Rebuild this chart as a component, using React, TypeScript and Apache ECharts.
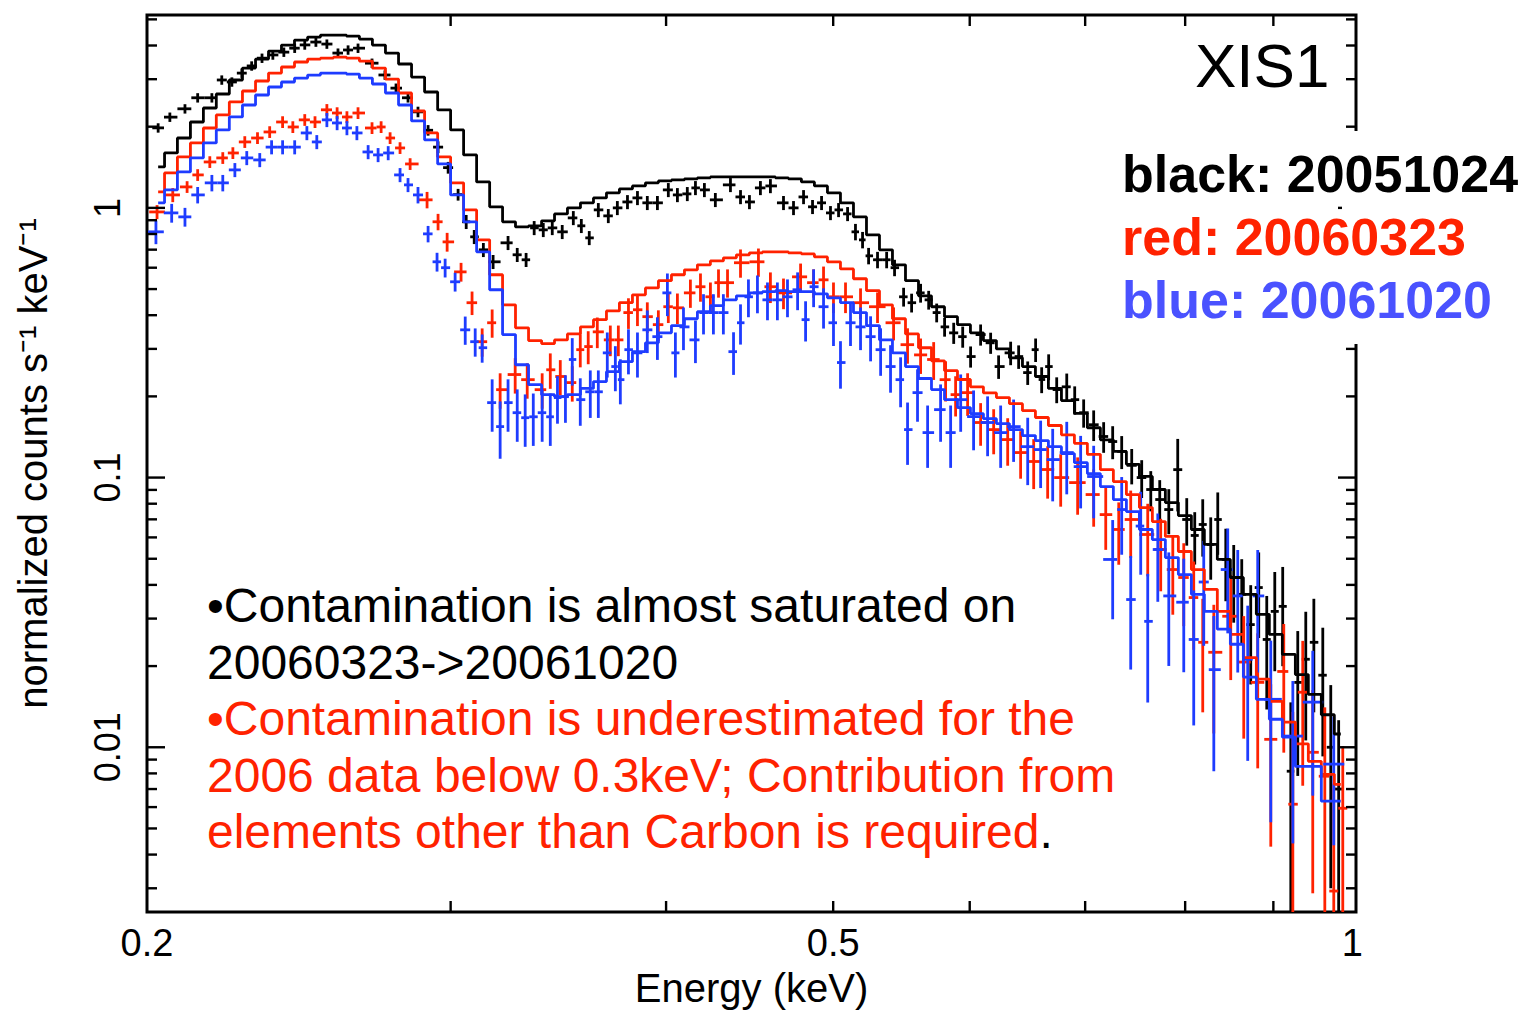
import React, { useEffect, useRef } from "react";
import * as echarts from "echarts";

// ---------------- axis ranges & ticks ----------------
const X_MIN = 0.2;
const X_MAX = 1.005;
const Y_MIN = 0.00245;
const Y_MAX = 5.19;

const xTickValues = [0.3, 0.4, 0.5, 0.6, 0.7, 0.8, 0.9];
const xLabelValues = [0.2, 0.5, 1];
const yMajorTicks = [0.01, 0.1, 1];
const yMinorTicks = [0.003, 0.004, 0.005, 0.006, 0.007, 0.008, 0.009, 0.02, 0.03, 0.04, 0.05, 0.06, 0.07, 0.08, 0.09, 0.2, 0.3, 0.4, 0.5, 0.6, 0.7, 0.8, 0.9, 2, 3, 4, 5];
const yLabelValues = [0.01, 0.1, 1];

// ---------------- model (step) curves ----------------
const modelEnergy = [0.2030, 0.2065, 0.2101, 0.2138, 0.2175, 0.2213, 0.2252, 0.2292, 0.2332, 0.2373,
  0.2414, 0.2457, 0.2500, 0.2543, 0.2588, 0.2633, 0.2679, 0.2726, 0.2774, 0.2823,
  0.2872, 0.2923, 0.2974, 0.3026, 0.3079, 0.3133, 0.3188, 0.3243, 0.3300, 0.3358,
  0.3417, 0.3476, 0.3537, 0.3599, 0.3662, 0.3726, 0.3791, 0.3858, 0.3925, 0.3994,
  0.4064, 0.4135, 0.4207, 0.4281, 0.4356, 0.4432, 0.4510, 0.4589, 0.4669, 0.4751,
  0.4834, 0.4919, 0.5005, 0.5093, 0.5182, 0.5273, 0.5365, 0.5459, 0.5555, 0.5652,
  0.5751, 0.5852, 0.5954, 0.6058, 0.6164, 0.6272, 0.6382, 0.6494, 0.6607, 0.6723,
  0.6841, 0.6960, 0.7082, 0.7206, 0.7332, 0.7461, 0.7591, 0.7724, 0.7859, 0.7997,
  0.8137, 0.8279, 0.8424, 0.8572, 0.8722, 0.8874, 0.9030, 0.9188, 0.9349, 0.9512,
  0.9679, 0.9848];

const blackModel = [1.419, 1.598, 1.816, 2.082, 2.346, 2.644, 2.979, 3.300, 3.563, 3.815,
  4.015, 4.190, 4.299, 4.373, 4.373, 4.335, 4.226, 4.015, 3.751, 3.415,
  3.056, 2.689, 2.307, 1.945, 1.572, 1.248, 1.009, 0.888, 0.850, 0.858,
  0.895, 0.950, 1.000, 1.044, 1.089, 1.137, 1.176, 1.206, 1.238, 1.259,
  1.270, 1.281, 1.292, 1.303, 1.303, 1.303, 1.303, 1.303, 1.292, 1.281,
  1.248, 1.206, 1.137, 1.044, 0.926, 0.794, 0.699, 0.615, 0.537, 0.472,
  0.430, 0.395, 0.369, 0.344, 0.322, 0.300, 0.278, 0.258, 0.237, 0.214,
  0.193, 0.173, 0.153, 0.138, 0.125, 0.112, 0.101, 0.0903, 0.0808, 0.0723,
  0.0642, 0.0565, 0.0497, 0.0426, 0.0369, 0.0311, 0.0262, 0.0221, 0.0186, 0.0157,
  0.0132, 0.0112];

const redModel = [1.146, 1.348, 1.545, 1.741, 1.978, 2.211, 2.470, 2.713, 2.954, 3.162,
  3.329, 3.474, 3.563, 3.594, 3.625, 3.594, 3.503, 3.300, 3.004, 2.667,
  2.287, 1.896, 1.545, 1.238, 0.983, 0.761, 0.565, 0.437, 0.359, 0.322,
  0.314, 0.324, 0.341, 0.362, 0.385, 0.415, 0.445, 0.476, 0.505, 0.537,
  0.565, 0.589, 0.615, 0.636, 0.653, 0.670, 0.681, 0.687, 0.687, 0.681,
  0.675, 0.658, 0.631, 0.594, 0.546, 0.493, 0.437, 0.388, 0.341, 0.303,
  0.271, 0.249, 0.231, 0.217, 0.206, 0.198, 0.188, 0.177, 0.167, 0.156,
  0.144, 0.134, 0.122, 0.107, 0.0966, 0.0865, 0.0774, 0.0687, 0.0605, 0.0532,
  0.0456, 0.0385, 0.0319, 0.0262, 0.0215, 0.0179, 0.0148, 0.0124, 0.0103, 0.00887,
  0.00794, 0.00729];

const blueModel = [1.044, 1.166, 1.359, 1.532, 1.741, 1.945, 2.173, 2.407, 2.621, 2.807,
  2.929, 3.030, 3.108, 3.162, 3.162, 3.135, 3.030, 2.879, 2.667, 2.407,
  2.101, 1.786, 1.455, 1.117, 0.888, 0.687, 0.497, 0.339, 0.262, 0.221,
  0.203, 0.1995, 0.203, 0.214, 0.227, 0.247, 0.269, 0.293, 0.316, 0.344,
  0.366, 0.388, 0.412, 0.434, 0.456, 0.472, 0.484, 0.489, 0.493, 0.489,
  0.489, 0.480, 0.464, 0.445, 0.409, 0.366, 0.324, 0.290, 0.258, 0.233,
  0.212, 0.1945, 0.1817, 0.1726, 0.1654, 0.1585, 0.1506, 0.1431, 0.1371, 0.1302,
  0.1227, 0.1136, 0.1035, 0.0926, 0.0829, 0.0748, 0.0642, 0.0589, 0.0505, 0.0437,
  0.0369, 0.0319, 0.0274, 0.0241, 0.0182, 0.01506, 0.0127, 0.0109, 0.0085, 0.0085,
  0.00631, 0.00631];

// ---------------- data points (energy, counts, relative error) ----------------
const blackE = [0.2030, 0.2062, 0.2104, 0.2140, 0.2181, 0.2210, 0.2240, 0.2270, 0.2300, 0.2332,
  0.2366, 0.2401, 0.2436, 0.2469, 0.2506, 0.2543, 0.2581, 0.2616, 0.2651, 0.2701,
  0.2748, 0.2789, 0.2834, 0.2872, 0.2911, 0.2950, 0.2990, 0.3030, 0.3063, 0.3096,
  0.3134, 0.3175, 0.3239, 0.3279, 0.3318, 0.3354, 0.3395, 0.3436, 0.3482, 0.3534,
  0.3572, 0.3610, 0.3654, 0.3703, 0.3748, 0.3799, 0.3850, 0.3901, 0.3954, 0.4012,
  0.4061, 0.4115, 0.4160, 0.4210, 0.4272, 0.4359, 0.4418, 0.4471, 0.4537, 0.4598,
  0.4679, 0.4742, 0.4806, 0.4864, 0.4923, 0.4982, 0.5036, 0.5097, 0.5151, 0.5200,
  0.5242, 0.5305, 0.5370, 0.5427, 0.5493, 0.5552, 0.5619, 0.5680, 0.5741, 0.5802,
  0.5873, 0.5944, 0.6007, 0.6088, 0.6170, 0.6236, 0.6337, 0.6405, 0.6483, 0.6552,
  0.6605, 0.6667, 0.6739, 0.6830, 0.6903, 0.6986, 0.7080, 0.7175, 0.7262, 0.7350,
  0.7449, 0.7549, 0.7641, 0.7733, 0.7827, 0.7921, 0.8017, 0.8103, 0.8190, 0.8278,
  0.8356, 0.8446, 0.8536, 0.8628, 0.8732, 0.8826, 0.8921, 0.9017, 0.9113, 0.9212,
  0.9298, 0.9398, 0.9500, 0.9614, 0.9717, 0.9820];
const blackV = [1.98, 2.17, 2.33, 2.56, 2.56, 2.98, 2.93, 3.16, 3.36, 3.59,
  3.69, 3.78, 3.91, 4.02, 4.12, 4.05, 3.75, 3.85, 3.91, 3.44,
  3.11, 2.78, 2.56, 2.27, 1.94, 1.68, 1.41, 1.12, 0.888, 0.781,
  0.699, 0.631, 0.742, 0.670, 0.642, 0.843, 0.829, 0.843, 0.815, 0.918,
  0.858, 0.774, 0.983, 0.934, 1.0, 1.052, 1.089, 1.044, 1.044, 1.166,
  1.117, 1.127, 1.186, 1.166, 1.071, 1.217, 1.098, 1.052, 1.186, 1.206,
  1.044, 1.0, 1.098, 1.009, 1.044, 0.958, 0.983, 0.950, 0.815, 0.761,
  0.664, 0.642, 0.642, 0.600, 0.468, 0.445, 0.484, 0.456, 0.409, 0.362,
  0.344, 0.333, 0.281, 0.339, 0.316, 0.258, 0.290, 0.281, 0.245, 0.298,
  0.231, 0.258, 0.212, 0.217, 0.1945, 0.174, 0.157, 0.142, 0.136, 0.125,
  0.111, 0.100, 0.0903, 0.0829, 0.0761, 0.107, 0.0699, 0.0610, 0.0670, 0.0565,
  0.0699, 0.0497, 0.0426, 0.0369, 0.0285, 0.0391, 0.0251, 0.0319, 0.0333, 0.00815,
  0.0174, 0.0212, 0.0245, 0.0185, 0.0100, 0.0070];
const blackErr = [0.04, 0.04, 0.04, 0.04, 0.04, 0.04, 0.04, 0.04, 0.04, 0.04,
  0.04, 0.04, 0.04, 0.04, 0.04, 0.04, 0.04, 0.04, 0.04, 0.04,
  0.04, 0.04, 0.04, 0.045, 0.045, 0.05, 0.05, 0.05, 0.06, 0.06,
  0.06, 0.06, 0.06, 0.06, 0.06, 0.06, 0.06, 0.06, 0.06, 0.06,
  0.06, 0.06, 0.06, 0.06, 0.06, 0.06, 0.06, 0.06, 0.06, 0.06,
  0.06, 0.06, 0.06, 0.06, 0.06, 0.06, 0.06, 0.06, 0.06, 0.06,
  0.06, 0.06, 0.06, 0.06, 0.06, 0.06, 0.06, 0.06, 0.07, 0.07,
  0.07, 0.07, 0.07, 0.07, 0.08, 0.08, 0.08, 0.08, 0.08, 0.08,
  0.09, 0.09, 0.09, 0.09, 0.09, 0.1, 0.1, 0.1, 0.1, 0.1,
  0.11, 0.11, 0.11, 0.12, 0.12, 0.12, 0.13, 0.13, 0.14, 0.14,
  0.15, 0.16, 0.17, 0.18, 0.19, 0.3, 0.2, 0.22, 0.24, 0.26,
  0.26, 0.3, 0.32, 0.35, 0.4, 0.35, 0.45, 0.4, 0.4, 0.8,
  0.55, 0.5, 0.45, 0.5, 0.7, 0.8];

const redE = [0.2027, 0.2070, 0.2110, 0.2140, 0.2175, 0.2213, 0.2243, 0.2279, 0.2318, 0.2356,
  0.2397, 0.2430, 0.2469, 0.2503, 0.2543, 0.2578, 0.2612, 0.2651, 0.2701, 0.2734,
  0.2767, 0.2804, 0.2842, 0.2907, 0.2950, 0.2986, 0.3042, 0.3087, 0.3129, 0.3171,
  0.3205, 0.3270, 0.3323, 0.3390, 0.3427, 0.3473, 0.3529, 0.3567, 0.3605, 0.3649,
  0.3713, 0.3753, 0.3804, 0.3850, 0.3901, 0.3959, 0.4012, 0.4061, 0.4132, 0.4188,
  0.4244, 0.4290, 0.4342, 0.4418, 0.4525, 0.4598, 0.4679, 0.4787, 0.4871, 0.4936,
  0.5002, 0.5083, 0.5186, 0.5305, 0.5420, 0.5522, 0.5619, 0.5718, 0.5810, 0.5888,
  0.5983, 0.6088, 0.6195, 0.6312, 0.6422, 0.6535, 0.6658, 0.6775, 0.6930, 0.7080,
  0.7195, 0.7321, 0.7439, 0.7610, 0.7743, 0.7869, 0.7985, 0.8092, 0.8190, 0.8312,
  0.8502, 0.8651, 0.8814, 0.8969, 0.9126, 0.9237, 0.9360, 0.9486, 0.9640, 0.9756,
  0.9874];
const redV = [0.966, 1.117, 1.196, 1.325, 1.480, 1.532, 1.598, 1.756, 1.816, 1.912,
  2.082, 1.995, 2.12, 2.082, 2.31, 2.248, 2.173, 2.248, 1.978, 1.995,
  1.816, 1.668, 1.455, 1.071, 0.888, 0.748, 0.579, 0.445, 0.319, 0.375,
  0.2118, 0.241, 0.2307, 0.2118, 0.251, 0.237, 0.225, 0.298, 0.306, 0.347,
  0.324, 0.324, 0.409, 0.419, 0.395, 0.369, 0.430, 0.426, 0.484, 0.510,
  0.468, 0.528, 0.528, 0.626, 0.631, 0.510, 0.484, 0.555, 0.528, 0.541,
  0.468, 0.468, 0.445, 0.430, 0.375, 0.311, 0.285, 0.274, 0.2307, 0.203,
  0.2065, 0.160, 0.1506, 0.1383, 0.1238, 0.1147, 0.1071, 0.100, 0.0958, 0.0865,
  0.0729, 0.0642, 0.0699, 0.0615, 0.0541, 0.0456, 0.0426, 0.0359, 0.0245, 0.0225,
  0.0306, 0.0207, 0.0174, 0.0107, 0.0191, 0.00615, 0.0160, 0.00958, 0.00781, 0.00293,
  0.00594];
const redErr = [0.06, 0.06, 0.05, 0.05, 0.05, 0.05, 0.05, 0.05, 0.05, 0.05,
  0.05, 0.05, 0.05, 0.05, 0.05, 0.05, 0.05, 0.05, 0.05, 0.05,
  0.05, 0.05, 0.05, 0.07, 0.07, 0.08, 0.08, 0.1, 0.12, 0.12,
  0.15, 0.15, 0.15, 0.15, 0.15, 0.15, 0.15, 0.14, 0.14, 0.13,
  0.13, 0.13, 0.13, 0.13, 0.13, 0.13, 0.13, 0.13, 0.12, 0.12,
  0.13, 0.12, 0.12, 0.12, 0.12, 0.13, 0.13, 0.12, 0.12, 0.12,
  0.13, 0.13, 0.13, 0.13, 0.14, 0.15, 0.15, 0.16, 0.17, 0.17,
  0.18, 0.18, 0.19, 0.2, 0.2, 0.21, 0.22, 0.22, 0.24, 0.24,
  0.26, 0.26, 0.28, 0.3, 0.3, 0.32, 0.34, 0.36, 0.45, 0.5,
  0.42, 0.48, 0.52, 0.6, 0.5, 1.2, 0.55, 0.7, 0.8, 1.5,
  0.7];

const blueE = [0.2024, 0.2067, 0.2104, 0.2140, 0.2181, 0.2213, 0.2249, 0.2285, 0.2325, 0.2362,
  0.2397, 0.2436, 0.2476, 0.2509, 0.2543, 0.2578, 0.2612, 0.2647, 0.2687, 0.2723,
  0.2760, 0.2804, 0.2834, 0.2872, 0.2911, 0.2946, 0.2978, 0.3018, 0.3059, 0.3100,
  0.3129, 0.3171, 0.3205, 0.3239, 0.3279, 0.3314, 0.3350, 0.3390, 0.3427, 0.3460,
  0.3497, 0.3529, 0.3567, 0.3615, 0.3654, 0.3698, 0.3738, 0.3763, 0.3804, 0.3850,
  0.3901, 0.3954, 0.4007, 0.4050, 0.4094, 0.4160, 0.4205, 0.4261, 0.4318, 0.4377,
  0.4418, 0.4465, 0.4519, 0.4580, 0.4641, 0.4704, 0.4768, 0.4819, 0.4871, 0.4936,
  0.5002, 0.5049, 0.5117, 0.5186, 0.5256, 0.5327, 0.5398, 0.5471, 0.5522, 0.5596,
  0.5672, 0.5771, 0.5849, 0.5928, 0.6031, 0.6145, 0.6253, 0.6362, 0.6483, 0.6596,
  0.6703, 0.6830, 0.6958, 0.7080, 0.7262, 0.7350, 0.7439, 0.7539, 0.7610, 0.7713,
  0.7827, 0.7985, 0.8092, 0.8201, 0.8312, 0.8468, 0.8582, 0.8697, 0.8814, 0.8969,
  0.9237, 0.9486, 0.9756];
const blueV = [0.815, 0.958, 0.926, 1.117, 1.238, 1.238, 1.383, 1.532, 1.506, 1.68,
  1.68, 1.68, 1.896, 1.756, 2.12, 2.065, 1.978, 1.896, 1.612, 1.572,
  1.598, 1.325, 1.217, 1.117, 0.801, 0.631, 0.600, 0.532, 0.353, 0.319,
  0.303, 0.1896, 0.1545, 0.1896, 0.174, 0.1667, 0.168, 0.174, 0.168, 0.198,
  0.1995, 0.274, 0.1945, 0.208, 0.208, 0.290, 0.258, 0.2307, 0.298, 0.290,
  0.353, 0.333, 0.484, 0.290, 0.362, 0.324, 0.409, 0.409, 0.409, 0.293,
  0.375, 0.468, 0.484, 0.456, 0.456, 0.468, 0.497, 0.385, 0.510, 0.430,
  0.375, 0.267, 0.375, 0.362, 0.333, 0.298, 0.258, 0.2307, 0.1506, 0.2065,
  0.1468, 0.1786, 0.1468, 0.1945, 0.1683, 0.160, 0.1468, 0.1545, 0.1302, 0.127,
  0.1166, 0.1238, 0.1098, 0.1009, 0.0497, 0.0761, 0.0353, 0.0661, 0.0293, 0.0541,
  0.0364, 0.0345, 0.0251, 0.0410, 0.0194, 0.0456, 0.0364, 0.0212, 0.0364, 0.01506,
  0.0110, 0.0147, 0.00866];
const blueErr = [0.1, 0.08, 0.08, 0.07, 0.07, 0.07, 0.06, 0.06, 0.06, 0.06,
  0.06, 0.06, 0.06, 0.06, 0.06, 0.06, 0.06, 0.06, 0.06, 0.06,
  0.06, 0.06, 0.06, 0.07, 0.07, 0.08, 0.08, 0.08, 0.12, 0.12,
  0.12, 0.22, 0.24, 0.22, 0.22, 0.22, 0.22, 0.22, 0.22, 0.2,
  0.2, 0.2, 0.2, 0.2, 0.2, 0.19, 0.19, 0.19, 0.19, 0.19,
  0.18, 0.18, 0.18, 0.19, 0.18, 0.18, 0.17, 0.17, 0.17, 0.18,
  0.17, 0.16, 0.16, 0.16, 0.16, 0.16, 0.16, 0.17, 0.16, 0.17,
  0.18, 0.2, 0.18, 0.18, 0.19, 0.2, 0.2, 0.21, 0.26, 0.22,
  0.26, 0.24, 0.26, 0.24, 0.25, 0.25, 0.26, 0.26, 0.28, 0.28,
  0.3, 0.3, 0.3, 0.3, 0.4, 0.32, 0.45, 0.34, 0.5, 0.36,
  0.45, 0.45, 0.52, 0.42, 0.58, 0.42, 0.48, 0.58, 0.48, 0.65,
  0.6, 0.55, 0.5];

// ---------------- styling ----------------
const FONT = '"Liberation Sans", Arial, Helvetica, sans-serif';
const BLACK = "#000000";
const RED = "#ff2200";
const BLUE = "#1e3cff";
const LEGEND_BLUE = "#4a52ff";

function buildBars(E: number[], V: number[], R: number[]) {
  return E.map((e, i) => {
    const prev = i > 0 ? E[i - 1] : (e * e) / E[i + 1];
    const next = i < E.length - 1 ? E[i + 1] : (e * e) / E[i - 1];
    const lo = Math.sqrt(prev * e);
    const hi = Math.sqrt(e * next);
    const v = V[i];
    const dv = v * R[i];
    return [e, v, lo, hi, Math.max(v - dv, Y_MIN), Math.min(v + dv, Y_MAX)];
  });
}

function errorSeries(name: string, E: number[], V: number[], R: number[], color: string) {
  return {
    type: "custom",
    name,
    silent: true,
    z: 3,
    encode: { x: 0, y: 1 },
    data: buildBars(E, V, R),
    renderItem: (params: any, api: any) => {
      const p = api.coord([api.value(0), api.value(1)]);
      const l = api.coord([api.value(2), api.value(1)]);
      const r = api.coord([api.value(3), api.value(1)]);
      const b = api.coord([api.value(0), api.value(4)]);
      const t = api.coord([api.value(0), api.value(5)]);
      const style = { stroke: color, lineWidth: 2.8 };
      return {
        type: "group",
        children: [
          { type: "line", shape: { x1: l[0], y1: p[1], x2: r[0], y2: p[1] }, style },
          { type: "line", shape: { x1: p[0], y1: t[1], x2: p[0], y2: b[1] }, style },
        ],
      };
    },
  };
}

function modelSeries(name: string, M: number[], color: string) {
  return {
    type: "line",
    name,
    step: "middle",
    symbol: "none",
    silent: true,
    z: 4,
    clip: true,
    lineStyle: { color, width: 2.8 },
    data: modelEnergy.map((e, i) => [e, M[i]]),
  };
}

const tickStyle = { stroke: "#000", lineWidth: 2.4 };

const option: any = {
  animation: false,
  backgroundColor: "#ffffff",
  textStyle: { fontFamily: FONT },
  grid: {
    left: 147,
    right: 173,
    top: 15,
    bottom: 100,
    show: true,
    borderColor: "#000",
    borderWidth: 3,
    backgroundColor: "transparent",
  },
  xAxis: {
    type: "log",
    logBase: 10,
    min: X_MIN,
    max: X_MAX,
    name: "Energy (keV)",
    nameLocation: "middle",
    nameGap: 56,
    nameTextStyle: { fontFamily: FONT, fontSize: 40, color: "#000" },
    axisLine: { show: false },
    axisTick: { show: false },
    axisLabel: { show: false },
    splitLine: { show: false },
  },
  yAxis: {
    type: "log",
    logBase: 10,
    min: Y_MIN,
    max: Y_MAX,
    name: "normalized counts s⁻¹ keV⁻¹",
    nameLocation: "middle",
    nameGap: 94,
    nameTextStyle: { fontFamily: FONT, fontSize: 40, color: "#000" },
    axisLine: { show: false },
    axisTick: { show: false },
    axisLabel: { show: false },
    splitLine: { show: false },
  },
  series: [
    errorSeries("black data", blackE, blackV, blackErr, BLACK),
    modelSeries("black model", blackModel, BLACK),
    errorSeries("red data", redE, redV, redErr, RED),
    modelSeries("red model", redModel, RED),
    errorSeries("blue data", blueE, blueV, blueErr, BLUE),
    modelSeries("blue model", blueModel, BLUE),
    {
      type: "custom",
      name: "x ticks",
      silent: true,
      z: 6,
      encode: { x: 0, y: 1 },
      data: xTickValues.map((v) => [v, 1]),
      renderItem: (params: any, api: any) => {
        const cs = params.coordSys;
        const x = api.coord([api.value(0), 1])[0];
        return {
          type: "group",
          children: [
            { type: "line", shape: { x1: x, y1: cs.y + cs.height, x2: x, y2: cs.y + cs.height - 11 }, style: tickStyle },
            { type: "line", shape: { x1: x, y1: cs.y, x2: x, y2: cs.y + 11 }, style: tickStyle },
          ],
        };
      },
    },
    {
      type: "custom",
      name: "y ticks",
      silent: true,
      z: 6,
      encode: { x: 0, y: 1 },
      data: [...yMajorTicks.map((v) => [0.5, v, 1]), ...yMinorTicks.map((v) => [0.5, v, 0])],
      renderItem: (params: any, api: any) => {
        const cs = params.coordSys;
        const y = api.coord([0.5, api.value(1)])[1];
        const len = api.value(2) ? 18 : 10;
        return {
          type: "group",
          children: [
            { type: "line", shape: { x1: cs.x, y1: y, x2: cs.x + len, y2: y }, style: tickStyle },
            { type: "line", shape: { x1: cs.x + cs.width, y1: y, x2: cs.x + cs.width - len, y2: y }, style: tickStyle },
          ],
        };
      },
    },
    {
      type: "custom",
      name: "x labels",
      silent: true,
      z: 6,
      encode: { x: 0, y: 1 },
      data: xLabelValues.map((v) => [v, 1]),
      renderItem: (params: any, api: any) => {
        const cs = params.coordSys;
        const x = api.coord([api.value(0), 1])[0];
        return {
          type: "text",
          x,
          y: cs.y + cs.height + 31,
          style: {
            text: String(api.value(0)),
            fill: "#000",
            font: `38px ${FONT}`,
            align: "center",
            verticalAlign: "middle",
          },
        };
      },
    },
    {
      type: "custom",
      name: "y labels",
      silent: true,
      z: 6,
      encode: { x: 0, y: 1 },
      data: yLabelValues.map((v) => [0.5, v]),
      renderItem: (params: any, api: any) => {
        const cs = params.coordSys;
        const y = api.coord([0.5, api.value(1)])[1];
        return {
          type: "text",
          x: cs.x - 40,
          y,
          rotation: Math.PI / 2,
          style: {
            text: String(api.value(1)),
            fill: "#000",
            font: `36px ${FONT}`,
            align: "center",
            verticalAlign: "middle",
          },
        };
      },
    },
  ],
  graphic: [
    { type: "rect", z: 50, shape: { x: 1342, y: 131, width: 30, height: 213 }, style: { fill: "#ffffff" } },
    { type: "text", z: 60, x: 1195, y: 65, style: { text: "XIS1", fill: "#000", font: `62px ${FONT}`, align: "left", verticalAlign: "middle" } },
    { type: "text", z: 60, x: 1122, y: 174, style: { text: "black: 20051024", fill: "#000", font: `bold 52px ${FONT}`, align: "left", verticalAlign: "middle" } },
    { type: "text", z: 60, x: 1122, y: 237, style: { text: "red: 20060323", fill: RED, font: `bold 52px ${FONT}`, align: "left", verticalAlign: "middle" } },
    { type: "text", z: 60, x: 1122, y: 300, style: { text: "blue: 20061020", fill: LEGEND_BLUE, font: `bold 52px ${FONT}`, align: "left", verticalAlign: "middle" } },
    { type: "text", z: 60, x: 207, y: 605, style: { text: "•Contamination is almost saturated on", fill: "#000", font: `48px ${FONT}`, align: "left", verticalAlign: "middle" } },
    { type: "text", z: 60, x: 207, y: 662, style: { text: "20060323->20061020", fill: "#000", font: `48px ${FONT}`, align: "left", verticalAlign: "middle" } },
    { type: "text", z: 60, x: 207, y: 718, style: { text: "•Contamination is underestimated for the", fill: RED, font: `48px ${FONT}`, align: "left", verticalAlign: "middle" } },
    { type: "text", z: 60, x: 207, y: 775, style: { text: "2006 data below 0.3keV; Contribution from", fill: RED, font: `48px ${FONT}`, align: "left", verticalAlign: "middle" } },
    {
      type: "text",
      z: 60,
      x: 207,
      y: 831,
      style: {
        text: "{r|elements other than Carbon is required}{k|.}",
        font: `48px ${FONT}`,
        align: "left",
        verticalAlign: "middle",
        rich: {
          r: { fill: RED, font: `48px ${FONT}` },
          k: { fill: "#000", font: `48px ${FONT}` },
        },
      },
    },
  ],
};

export default function App() {
  const ref = useRef<HTMLDivElement>(null);
  useEffect(() => {
    if (!ref.current) return;
    const chart = echarts.init(ref.current, undefined, { renderer: "svg" });
    chart.setOption(option);
    return () => chart.dispose();
  }, []);
  return (
    <div
      ref={ref}
      style={{ position: "fixed", left: 0, top: 0, width: 1529, height: 1013, background: "#ffffff" }}
    />
  );
}
